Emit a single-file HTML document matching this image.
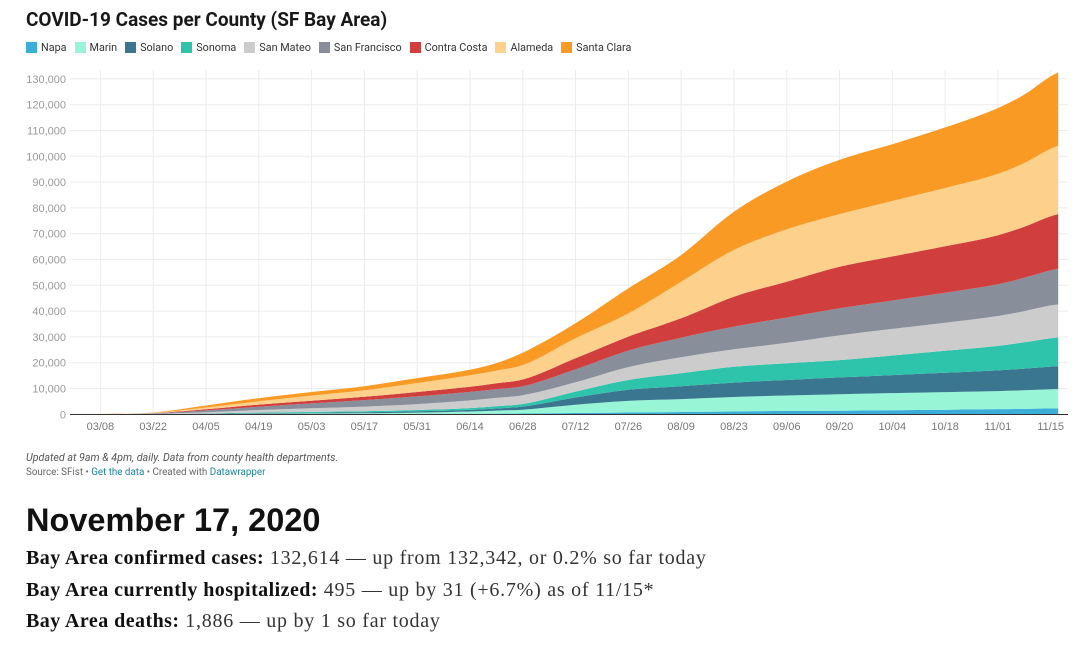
<!DOCTYPE html>
<html><head><meta charset="utf-8">
<style>
body{margin:0;background:#fff;font-family:"Roboto","Liberation Sans",sans-serif;}
#wrap{position:relative;width:1080px;height:645px;overflow:hidden;}
.title{position:absolute;left:26px;top:8px;font-size:19px;font-weight:bold;color:#181818;}
.legend{position:absolute;left:26px;top:41px;font-size:10.8px;color:#333;display:flex;gap:0;}
.li{display:flex;align-items:center;margin-right:8px;}
.sw{width:11px;height:11px;margin-right:4px;}
.note{position:absolute;left:26px;top:451px;font-size:10.7px;color:#555;font-style:italic;}
.src{position:absolute;left:26px;top:467px;font-size:9.8px;color:#666;}
.src span{color:#1d81a2;}
.date{position:absolute;left:26px;top:502px;font-size:32.5px;font-weight:bold;color:#111;font-family:"Liberation Sans",sans-serif;}
.line{position:absolute;left:26px;font-size:20px;letter-spacing:0.75px;color:#333;font-family:"Liberation Serif",serif;}
.line b{color:#111;letter-spacing:0.45px;}
</style></head><body>
<div id="wrap">
<div class="title">COVID-19 Cases per County (SF Bay Area)</div>
<div class="legend" id="legend"></div>
<svg id="chart" width="1080" height="445" style="position:absolute;left:0;top:0"></svg>
<div class="note">Updated at 9am &amp; 4pm, daily. Data from county health departments.</div>
<div class="src">Source: SFist • <span>Get the data</span> • Created with <span>Datawrapper</span></div>
<div class="date">November 17, 2020</div>
<div class="line" style="top:547px"><b>Bay Area confirmed cases:</b> 132,614 — up from 132,342, or 0.2% so far today</div>
<div class="line" style="top:579px"><b>Bay Area currently hospitalized:</b> 495 — up by 31 (+6.7%) as of 11/15*</div>
<div class="line" style="top:610px"><b>Bay Area deaths:</b> 1,886 — up by 1 so far today</div>
</div>
<script>
const dates=["2020-03-01","2020-03-08","2020-03-22","2020-04-05","2020-04-19","2020-05-03","2020-05-17","2020-05-31","2020-06-14","2020-06-21","2020-06-28","2020-07-12","2020-07-26","2020-08-09","2020-08-23","2020-09-06","2020-09-20","2020-10-04","2020-10-18","2020-11-01","2020-11-08","2020-11-15","2020-11-17"];
const counties=["Napa","Marin","Solano","Sonoma","San Mateo","San Francisco","Contra Costa","Alameda","Santa Clara"];
const colors=["#3aaed8","#98f5d6","#3a7690","#2ec4ab","#cccccc","#888e9a","#d13e3e","#fdd08b","#f99a25"];
const napa=[0,0,0,0.02,0.05,0.08,0.1,0.15,0.2,0.25,0.3,0.5,0.7,0.9,1.1,1.3,1.4,1.6,1.8,2.0,2.1,2.3,2.3];
const marin=[0,0,0.03,0.1,0.2,0.25,0.3,0.5,0.9,1.2,1.5,3.2,4.5,5.0,5.6,6.0,6.4,6.6,6.8,7.0,7.2,7.4,7.5];
const solano=[0,0,0.02,0.1,0.2,0.3,0.4,0.5,0.6,0.8,1.2,2.8,4.3,5.0,5.6,6.0,6.5,7.0,7.5,8.0,8.4,8.8,8.9];
const sonoma=[0,0,0.03,0.1,0.2,0.3,0.4,0.5,0.7,0.9,1.0,2.3,3.8,5.0,6.1,6.5,6.7,7.6,8.5,9.5,10.2,11.0,11.1];
const sanMateo=[0,0.02,0.1,0.5,1.0,1.4,1.8,2.3,3.0,3.2,3.4,3.6,5.0,6.2,6.8,7.9,9.6,10.3,10.9,11.6,12.1,12.7,12.8];
const sanFrancisco=[0,0.02,0.2,0.7,1.3,1.9,2.5,3.0,3.3,3.4,3.5,5.0,6.4,7.6,8.8,9.8,10.5,11.0,11.6,12.3,12.9,13.6,13.8];
const contraCosta=[0,0.01,0.1,0.4,0.8,1.0,1.3,1.7,2.0,2.3,2.6,4.3,5.4,7.5,11.6,13.9,16.1,17.1,18.0,19.0,19.8,21.0,21.2];
const alameda=[0,0.02,0.1,0.7,1.3,2.0,2.5,3.5,4.4,4.9,5.6,7.8,9.0,14.2,18.1,20.3,20.4,21.5,22.6,23.8,24.7,26.2,26.5];
const santaClara=[0,0.03,0.1,0.8,1.2,1.4,1.6,1.9,2.2,2.9,4.8,5.8,9.7,10.3,14.8,18.5,21.0,22.0,23.5,25.5,26.5,28.0,28.4];
const series=[napa,marin,solano,sonoma,sanMateo,sanFrancisco,contraCosta,alameda,santaClara];
const yTicks=[0,10000,20000,30000,40000,50000,60000,70000,80000,90000,100000,110000,120000,130000];
const xTickLabels=["03/08","03/22","04/05","04/19","05/03","05/17","05/31","06/14","06/28","07/12","07/26","08/09","08/23","09/06","09/20","10/04","10/18","11/01","11/15"];

const NS="http://www.w3.org/2000/svg";
const svg=document.getElementById('chart');
const t0=Date.UTC(2020,2,8);
function dayOf(s){const p=s.split('-');return (Date.UTC(+p[0],+p[1]-1,+p[2])-t0)/864e5;}
function x(s){return 100.4+dayOf(s)*3.771;}
function y(v){return 414.3-v/10000*25.8;}
function mk(tag,attrs){const e=document.createElementNS(NS,tag);for(const k in attrs)e.setAttribute(k,attrs[k]);svg.appendChild(e);return e;}
function monotone(pts){
  const n=pts.length,m=new Array(n),d=[];
  for(let i=0;i<n-1;i++)d.push((pts[i+1][1]-pts[i][1])/(pts[i+1][0]-pts[i][0]));
  m[0]=d[0];m[n-1]=d[n-2];
  for(let i=1;i<n-1;i++){m[i]=(d[i-1]*d[i]<=0)?0:(d[i-1]+d[i])/2;}
  for(let i=0;i<n-1;i++){if(d[i]===0){m[i]=0;m[i+1]=0;continue;}const a=m[i]/d[i],b=m[i+1]/d[i],s=a*a+b*b;if(s>9){const t=3/Math.sqrt(s);m[i]=t*a*d[i];m[i+1]=t*b*d[i];}}
  let s='';
  for(let i=0;i<n-1;i++){const h=(pts[i+1][0]-pts[i][0])/3;
    s+='C'+(pts[i][0]+h).toFixed(1)+','+(pts[i][1]+m[i]*h).toFixed(1)+' '+(pts[i+1][0]-h).toFixed(1)+','+(pts[i+1][1]-m[i+1]*h).toFixed(1)+' '+pts[i+1][0].toFixed(1)+','+pts[i+1][1].toFixed(1);}
  return s;
}

yTicks.forEach(v=>{
  const l=mk('line',{x1:70,x2:1068,y1:y(v),y2:y(v),stroke:'#ececec','stroke-width':1});
  
  
  const t=mk('text',{x:66,y:y(v)+4,'text-anchor':'end','font-size':11,fill:'#9a9a9a','font-family':'Liberation Sans, sans-serif'});
  t.textContent=v.toLocaleString('en-US');
  
  
});
xTickLabels.forEach(lbl=>{
  const s='2020-'+lbl.replace('/','-');
  const xx=x(s);
  const l=mk('line',{x1:xx,x2:xx,y1:70,y2:414,stroke:'#ececec','stroke-width':1});
  
  
  const t=mk('text',{x:xx,y:430,'text-anchor':'middle','font-size':11,fill:'#777','font-family':'Liberation Sans, sans-serif'});
  t.textContent=lbl;
  
  
});
const base=dates.map(()=>0);
series.forEach((arr,i)=>{
  const top=base.map((b,j)=>b+arr[j]*1000);
  const tp=dates.map((s,j)=>[x(s),y(top[j])]);
  const bp=dates.map((s,j)=>[x(s),y(base[j])]).reverse();
  const d='M'+tp[0][0].toFixed(1)+','+tp[0][1].toFixed(1)+monotone(tp)+'L'+bp[0][0].toFixed(1)+','+bp[0][1].toFixed(1)+monotone(bp)+'Z';
  const p=mk('path',{d:d,fill:colors[i]});
  
  
  top.forEach((v,j)=>base[j]=v);
});
const ax=mk('line',{x1:70,x2:1068,y1:414.5,y2:414.5,stroke:'#333','stroke-width':1});



const lg=document.getElementById('legend');
counties.forEach((c,i)=>{
  const d=document.createElement('div');d.className='li';
  
  
  d.innerHTML='<div class="sw" style="background:'+colors[i]+'"></div>'+c;
  lg.appendChild(d);
});
</script>
</body></html>
